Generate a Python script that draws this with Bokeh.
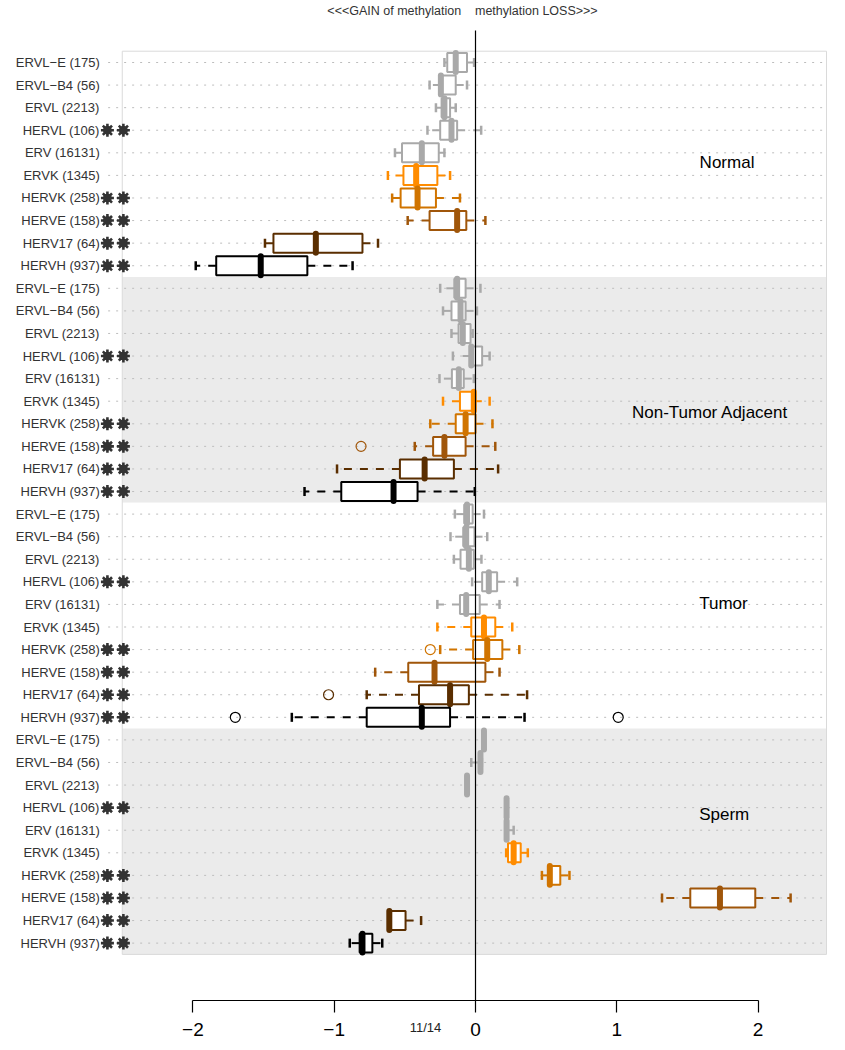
from bokeh.plotting import figure
from bokeh.models import Range1d, LinearAxis, FixedTicker
from bokeh.core.properties import value
from bokeh.embed import file_html
from bokeh.resources import INLINE

# ---------------- data ----------------
families = ["ERVL\u2212E (175)", "ERVL\u2212B4 (56)", "ERVL (2213)", "HERVL (106)",
            "ERV (16131)", "ERVK (1345)", "HERVK (258)", "HERVE (158)",
            "HERV17 (64)", "HERVH (937)"]
starred = [False, False, False, True, False, False, True, True, True, True]
family_colors = ["#A9A9A9", "#A9A9A9", "#A9A9A9", "#A9A9A9", "#A9A9A9",
                 "#FF8C00", "#D07400", "#A0560A", "#5A2E00", "#000000"]
panels = ["Normal", "Non-Tumor Adjacent", "Tumor", "Sperm"]

normal_lo  = [-0.22, -0.325, -0.28, -0.34, -0.57, -0.62, -0.59, -0.48, -1.49, -1.98]
normal_q1  = [-0.20, -0.245, -0.24, -0.25, -0.52, -0.51, -0.53, -0.325, -1.43, -1.835]
normal_med = [-0.14, -0.245, -0.22, -0.17, -0.38, -0.42, -0.41, -0.13, -1.13, -1.52]
normal_q3  = [-0.06, -0.14, -0.18, -0.13, -0.26, -0.27, -0.28, -0.065, -0.80, -1.19]
normal_hi  = [-0.01, -0.06, -0.14, 0.04, -0.22, -0.18, -0.11, 0.07, -0.69, -0.87]
normal_out = [[], [], [], [], [], [], [], [], [], []]

adj_lo  = [-0.25, -0.23, -0.17, -0.16, -0.255, -0.23, -0.32, -0.43, -0.98, -1.21]
adj_q1  = [-0.15, -0.17, -0.12, -0.035, -0.167, -0.11, -0.14, -0.30, -0.535, -0.95]
adj_med = [-0.13, -0.106, -0.09, -0.03, -0.118, -0.012, -0.07, -0.22, -0.36, -0.58]
adj_q3  = [-0.07, -0.07, -0.035, 0.047, -0.083, -0.012, 0.0, -0.07, -0.153, -0.41]
adj_hi  = [0.035, 0.01, -0.02, 0.10, -0.012, 0.10, 0.12, 0.14, 0.16, -0.005]
adj_out = [[], [], [], [], [], [], [], [-0.81], [], []]

tumor_lo  = [-0.146, -0.177, -0.153, -0.024, -0.27, -0.27, -0.25, -0.71, -0.77, -1.30]
tumor_q1  = [-0.08, -0.087, -0.106, 0.047, -0.11, -0.03, -0.017, -0.476, -0.40, -0.77]
tumor_med = [-0.06, -0.066, -0.047, 0.094, -0.066, 0.06, 0.083, -0.29, -0.18, -0.38]
tumor_q3  = [-0.02, -0.007, -0.012, 0.153, 0.03, 0.14, 0.19, 0.07, -0.047, -0.18]
tumor_hi  = [0.06, 0.083, 0.042, 0.295, 0.17, 0.26, 0.31, 0.17, 0.365, 0.347]
tumor_out = [[], [], [], [], [], [], [-0.32], [], [-1.04], [-1.70, 1.01]]

sperm_lo  = [0.055, -0.03, -0.065, 0.215, 0.215, 0.217, 0.47, 1.32, -0.61, -0.89]
sperm_q1  = [0.058, 0.03, -0.062, 0.218, 0.218, 0.23, 0.52, 1.52, -0.61, -0.82]
sperm_med = [0.06, 0.035, -0.06, 0.22, 0.22, 0.27, 0.526, 1.73, -0.61, -0.80]
sperm_q3  = [0.062, 0.04, -0.058, 0.222, 0.23, 0.32, 0.60, 1.98, -0.495, -0.73]
sperm_hi  = [0.065, 0.045, -0.055, 0.225, 0.27, 0.37, 0.665, 2.23, -0.385, -0.66]
sperm_out = [[], [], [], [], [], [], [], [], [], []]

tick_values = [-2, -1, 0, 1, 2]
tick_labels = ["\u22122", "\u22121", "0", "1", "2"]

panel_data = [
    (normal_lo, normal_q1, normal_med, normal_q3, normal_hi, normal_out),
    (adj_lo, adj_q1, adj_med, adj_q3, adj_hi, adj_out),
    (tumor_lo, tumor_q1, tumor_med, tumor_q3, tumor_hi, tumor_out),
    (sperm_lo, sperm_q1, sperm_med, sperm_q3, sperm_hi, sperm_out),
]
panel_title_pos = [(1.78, 4.43), (1.66, 15.5), (1.755, 23.96), (1.76, 33.3)]
panel_fill = ["#FFFFFF", "#EBEBEB", "#FFFFFF", "#EBEBEB"]

# ---------------- figure ----------------
FONT = "Liberation Sans"
AXIS_Y = 41.54
p = figure(frame_width=829, frame_height=1042,
           x_range=Range1d(-3.3617, 2.5053), y_range=Range1d(43.401, -2.7458),
           x_axis_type=None, y_axis_type=None,
           toolbar_location=None, output_backend="svg",
           min_border_left=0, min_border_right=0, min_border_top=0,
           min_border_bottom=0)
p.outline_line_color = None
p.background_fill_color = "white"
p.border_fill_color = "white"

n = len(families)
X_LEFT, X_RIGHT = -2.5, 2.484

# panel backgrounds
for k in range(len(panels)):
    p.quad(left=X_LEFT, right=X_RIGHT, top=10 * k - 0.5, bottom=10 * k + 9.5,
           fill_color=panel_fill[k], line_color=None)
p.quad(left=X_LEFT, right=X_RIGHT, top=-0.5, bottom=39.5,
       fill_color=None, line_color="#DADADA", line_width=1)

# dotted row grid
rows = list(range(len(panels) * n))
p.segment(x0=[-2.6] * len(rows), x1=[X_RIGHT] * len(rows), y0=rows, y1=rows,
          line_color="#BDBDBD", line_width=1, line_dash="2 6")

# row labels and stars
lab_y, lab_t, star_y = [], [], []
for k in range(len(panels)):
    for j in range(n):
        i = 10 * k + j
        lab_y.append(i)
        lab_t.append(families[j])
        if starred[j]:
            star_y.append(i)
p.text(x=[-2.659] * len(lab_y), y=lab_y, text=lab_t, text_align="right",
       text_baseline="middle", text_font=value(FONT), text_font_size="13px",
       text_color="#333333")
for sx in (-2.605, -2.492):
    p.scatter(x=[sx] * len(star_y), y=star_y, marker="asterisk", size=13,
              line_color="#333333", line_width=2.6)
    p.scatter(x=[sx] * len(star_y), y=star_y, marker="circle", size=8,
              fill_color="#333333", line_color="#333333")

# boxplots
BH = 0.42
SH = 0.2
for k, (lo, q1, med, q3, hi, out) in enumerate(panel_data):
    for j in range(n):
        i = 10 * k + j
        c = family_colors[j]
        if lo[j] < q1[j]:
            p.segment(x0=[q1[j]], x1=[lo[j]], y0=[i], y1=[i], line_color=c,
                      line_width=2, line_dash="8 8")
        if hi[j] > q3[j]:
            p.segment(x0=[q3[j]], x1=[hi[j]], y0=[i], y1=[i], line_color=c,
                      line_width=2, line_dash="8 8")
        p.segment(x0=[lo[j], hi[j]], x1=[lo[j], hi[j]], y0=[i - SH, i - SH],
                  y1=[i + SH, i + SH], line_color=c, line_width=2.5)
        p.quad(left=[q1[j]], right=[q3[j]], top=[i - BH], bottom=[i + BH],
               fill_color="white", line_color=c, line_width=2)
        p.segment(x0=[med[j]], x1=[med[j]], y0=[i - BH], y1=[i + BH],
                  line_color=c, line_width=6, line_cap="round")
        if out[j]:
            p.scatter(x=out[j], y=[i] * len(out[j]), marker="circle", size=10,
                      fill_color=None, line_color=c, line_width=1.2)

# zero line
p.segment(x0=[0], x1=[0], y0=[-1.417], y1=[AXIS_Y], line_color="black",
          line_width=1.2)

# panel titles
p.text(x=[t[0] for t in panel_title_pos], y=[t[1] for t in panel_title_pos],
       text=panels, text_align="center", text_baseline="middle",
       text_font=value(FONT), text_font_size="17px", text_color="black")

# top annotation
p.text(x=[-0.092], y=[-2.30],
       text=["<<<GAIN of methylation\u00a0\u00a0\u00a0\u00a0methylation LOSS>>>"],
       text_align="center", text_baseline="middle", text_font=value(FONT),
       text_font_size="12.5px", text_color="#333333")

# page number
p.text(x=[-0.354], y=[42.74], text=["11/14"], text_align="center",
       text_baseline="middle", text_font=value(FONT),
       text_font_size="13px", text_color="#222222")

# axis
ax = LinearAxis(ticker=FixedTicker(ticks=tick_values), bounds=(-2, 2),
                fixed_location=AXIS_Y,
                major_label_overrides={v: t for v, t in zip(tick_values, tick_labels)})
ax.axis_line_color = "black"
ax.axis_line_width = 1.2
ax.major_tick_line_color = "black"
ax.major_tick_line_width = 1.2
ax.major_tick_in = 0
ax.major_tick_out = 12
ax.minor_tick_out = 0
ax.minor_tick_in = 0
ax.major_label_standoff = 11
ax.major_label_text_font = FONT
ax.major_label_text_font_size = "19px"
ax.major_label_text_color = "black"
p.add_layout(ax, "below")

open("out.html", "w").write(file_html(p, INLINE))
